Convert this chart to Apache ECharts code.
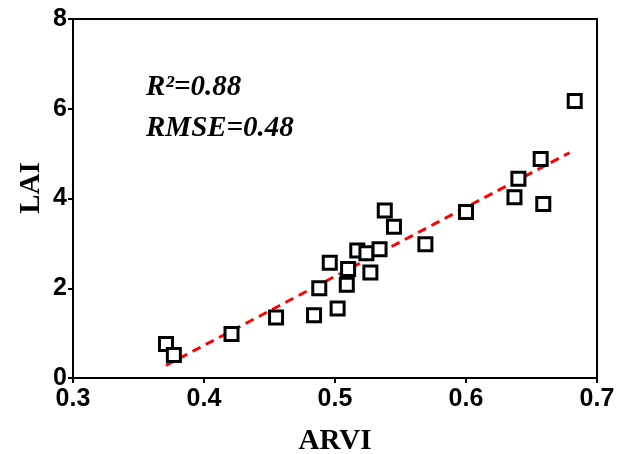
<!DOCTYPE html>
<html>
<head>
<meta charset="utf-8">
<style>
  html, body { margin: 0; padding: 0; background: #fff; }
  #chart { width: 620px; height: 454px; }
</style>
<script src="https://cdn.jsdelivr.net/npm/echarts@6/dist/echarts.min.js"></script>
</head>
<body>
<div id="chart"></div>
<script>
// Measured ARVI / LAI samples
const arvi = [0.371, 0.377, 0.421, 0.455, 0.484, 0.502, 0.488, 0.496, 0.509, 0.510,
              0.517, 0.524, 0.534, 0.527, 0.538, 0.545, 0.569, 0.600, 0.637, 0.640,
              0.657, 0.659, 0.683];
const lai  = [0.76, 0.51, 0.98, 1.35, 1.40, 1.55, 2.00, 2.57, 2.08, 2.43,
              2.84, 2.78, 2.87, 2.35, 3.73, 3.37, 2.98, 3.70, 4.03, 4.44,
              4.88, 3.88, 6.17];
// Fitted regression line end points
const fitArvi = [0.371, 0.679];
const fitLai  = [0.28, 5.02];
// Axis ticks and titles
const xTicks = [0.3, 0.4, 0.5, 0.6, 0.7];
const yTicks = [0, 2, 4, 6, 8];
const xTitle = 'ARVI';
const yTitle = 'LAI';
const statsText = ['R\u00B2=0.88', 'RMSE=0.48'];

const points = arvi.map((v, i) => [v, lai[i]]);
const fitLine = fitArvi.map((v, i) => [v, fitLai[i]]);

const chart = echarts.init(document.getElementById('chart'), null, { renderer: 'canvas' });
const tickFont = { color: '#000', fontFamily: 'Liberation Sans, Arial, sans-serif', fontWeight: 'bold', fontSize: 25 };
const nameFont = { color: '#000', fontFamily: 'Liberation Serif, Times New Roman, serif', fontWeight: 'bold', fontSize: 29 };
const statsFont = 'italic bold 29px "Liberation Serif", serif';

chart.setOption({
  animation: false,
  backgroundColor: '#fff',
  grid: {
    left: 73, right: 23, top: 19, bottom: 76,
    containLabel: false, outerBoundsMode: 'none',
    show: true, borderColor: '#000', borderWidth: 2, backgroundColor: 'transparent'
  },
  xAxis: {
    type: 'value',
    min: xTicks[0], max: xTicks[xTicks.length - 1], interval: 0.1,
    name: xTitle, nameLocation: 'middle', nameGap: 49,
    nameTextStyle: nameFont,
    axisLine: { show: true, lineStyle: { color: '#000', width: 2 } },
    axisTick: { show: true, length: 5, lineStyle: { color: '#000', width: 2 } },
    axisLabel: Object.assign({ margin: 9, formatter: v => v.toFixed(1) }, tickFont),
    splitLine: { show: false }
  },
  yAxis: {
    type: 'value',
    min: yTicks[0], max: yTicks[yTicks.length - 1], interval: 2,
    axisLine: { show: true, lineStyle: { color: '#000', width: 2 } },
    axisTick: { show: true, length: 5, lineStyle: { color: '#000', width: 2 } },
    axisLabel: Object.assign({ margin: 6 }, tickFont),
    splitLine: { show: false }
  },
  graphic: [
    {
      // vertical axis title, set slightly above the plot's middle
      type: 'text', x: 32, y: 188, rotation: Math.PI / 2,
      style: {
        text: yTitle, fill: '#000', align: 'center', verticalAlign: 'middle',
        font: 'bold 29px "Liberation Serif", serif'
      }
    },
    {
      type: 'text', left: 146, top: 73,
      style: { text: statsText[0], fill: '#000', font: statsFont }
    },
    {
      type: 'text', left: 146, top: 114,
      style: { text: statsText[1], fill: '#000', font: statsFont }
    }
  ],
  series: [
    {
      type: 'line',
      data: fitLine,
      symbol: 'none',
      z: 2,
      lineStyle: { color: '#ff0000', width: 3, type: [9, 6] }
    },
    {
      type: 'scatter',
      data: points,
      symbol: 'rect',
      symbolSize: 13,
      z: 3,
      itemStyle: { color: '#fff', borderColor: '#000', borderWidth: 3, opacity: 1 }
    }
  ]
});
</script>
</body>
</html>
